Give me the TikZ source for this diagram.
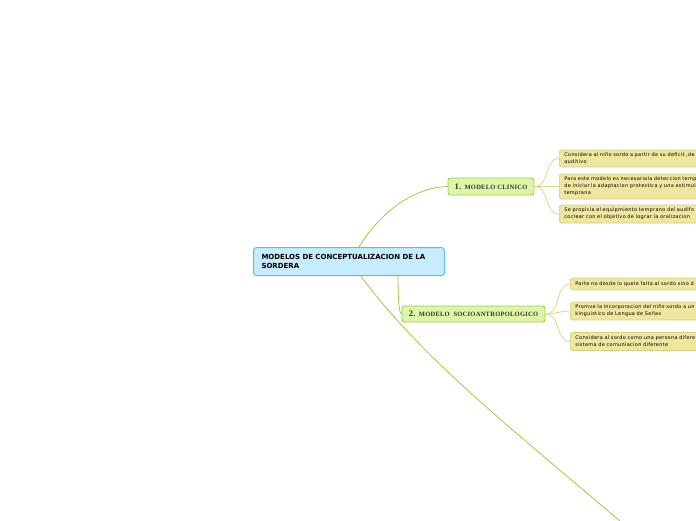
\documentclass[tikz,border=0pt]{standalone}
\usepackage{fontspec}
\newfontfamily\leaffont[LetterSpace=6,WordSpace=1.3]{DejaVu Sans}
\newfontfamily\mainfont{DejaVu Sans}
\newfontfamily\nodefont[LetterSpace=4]{Liberation Serif}
\definecolor{mainfill}{HTML}{C7ECFB}
\definecolor{maindraw}{HTML}{58BDEE}
\definecolor{topfill}{HTML}{DDF5A8}
\definecolor{topdraw}{HTML}{A2CC48}
\definecolor{leaffill}{HTML}{EFE6A0}
\definecolor{leafdraw}{HTML}{D8CF80}
\definecolor{linkgreen}{HTML}{A2C840}
\definecolor{linkleaf}{HTML}{DDD690}
\tikzset{
  mainbox/.style={draw=maindraw, fill=mainfill, line width=1pt, rounded corners=3pt, anchor=north west,
    minimum width=191pt, minimum height=28pt, inner xsep=8pt, align=left, text width=175pt,
    font=\mainfont\bfseries\fontsize{7}{9}\selectfont},
  topbox/.style={draw=topdraw, fill=topfill, line width=0.9pt, rounded corners=2.5pt, anchor=center,
    inner sep=0pt, font=\nodefont\bfseries, text=black!80},
  leafbox/.style={draw=leafdraw, fill=leaffill, line width=0.7pt, rounded corners=2.5pt, anchor=west,
    minimum width=190pt, inner xsep=5pt, inner ysep=0pt, align=left, text width=180pt,
    font=\leaffont\fontsize{5}{7}\selectfont},
  mainlink/.style={draw=linkgreen, line width=0.8pt},
  leaflink/.style={draw=linkleaf, line width=0.8pt}
}
\begin{document}
\begin{tikzpicture}[x=1pt,y=-1pt]
\useasboundingbox (0,0) rectangle (696,520);
\clip (0,0) rectangle (696,520);
% main node
\node[mainbox] (main) at (253,247) {MODELOS DE CONCEPTUALIZACION DE LA\\SORDERA};
% topic nodes
\node[topbox, minimum width=86pt, minimum height=17pt] (t1) at (491,186.5)
  {\fontsize{8.5}{9}\selectfont 1. \fontsize{6.5}{9}\selectfont MODELO CLINICO};
\node[topbox, minimum width=143pt, minimum height=16pt] (t2) at (473.5,314)
  {\fontsize{8.5}{9}\selectfont 2. \fontsize{6.5}{9}\selectfont MODELO\ \ SOCIOANTROPOLOGICO};
% leaves of topic 1
\node[leafbox, minimum height=17pt] (l11) at (559,158.5) {Considera al niño sordo a partir de su deficit ,de\\auditivo};
\node[leafbox, minimum height=25pt] (l12) at (559,186.5) {Para este modelo es necesariala deteccion temp\\de iniciar la adaptacion protestica y una estimul\\temprana};
\node[leafbox, minimum height=18pt] (l13) at (559,214) {Se propicia el equipmiento temprano  del audifo\\coclear con el objetivo de lograr la oralizacion};
% leaves of topic 2
\node[leafbox, minimum height=12pt] (l21) at (570,284) {Parte no desde lo quele falta al sordo sino d};
\node[leafbox, minimum height=18pt] (l22) at (570,311) {Promve la incorporacion del niño sordo a un\\kinguistico de  Lengua de Señas};
\node[leafbox, minimum height=18pt] (l23) at (570,341.5) {Considera al sordo como una persona difere\\sistema de comuniacion diferente};
% connectors main -> topics
\coordinate (m1) at (359,247);
\coordinate (m2) at (398,275);
\coordinate (m3) at (360,275);
\coordinate (far) at (660,556);
\draw[mainlink] (m1) .. controls (385,205) and (420,187) .. (t1.west);
\draw[mainlink] (m2) .. controls (398,298) and (399,314) .. (t2.west);
\draw[mainlink] (m3) .. controls (430,370) and (540,450) .. (far);
% connectors topic -> leaves
\coordinate (r1) at (t1.east);
\coordinate (r2) at (t2.east);
\draw[leaflink] (r1) .. controls (550,187) and (544,158.5) .. (l11.west);
\draw[leaflink] (r1) -- (l12.west);
\draw[leaflink] (r1) .. controls (550,187) and (544,214) .. (l13.west);
\draw[leaflink] (r2) .. controls (561,314) and (555,284) .. (l21.west);
\draw[leaflink] (r2) .. controls (556,314) and (560,311) .. (l22.west);
\draw[leaflink] (r2) .. controls (561,314) and (555,341.5) .. (l23.west);
\end{tikzpicture}
\end{document}
